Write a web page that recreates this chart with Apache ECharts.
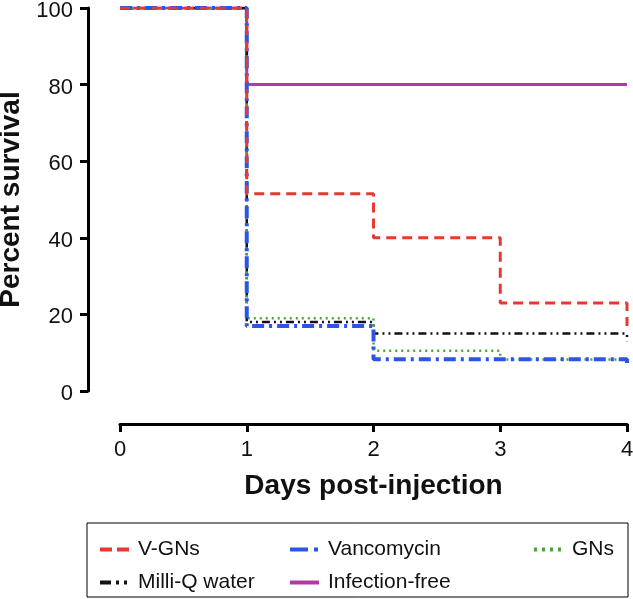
<!DOCTYPE html>
<html><head><meta charset="utf-8">
<script src="https://cdn.jsdelivr.net/npm/echarts@6/dist/echarts.min.js"></script>
<style>html,body{margin:0;padding:0;background:#fff}#c{width:633px;height:599px}</style>
</head><body><div id="c"></div>
<script>
var xTicks = [0, 1, 2, 3, 4];
var yTicks = [0, 20, 40, 60, 80, 100];
var vgnsDays = [0, 1, 2, 3, 4];
var vgnsVals = [100, 51.5, 40, 23, 17];
var vancoDays = [0, 1, 2, 4];
var vancoVals = [100, 17, 8.3, 6];
var gnsDays = [0, 1, 2, 3, 4];
var gnsVals = [100, 19, 10.5, 8.2, 8.2];
var milliDays = [0, 1, 2, 4];
var milliVals = [100, 18, 15, 13];
var freeDays = [0, 1, 4];
var freeVals = [100, 80, 80];
var names = ['V-GNs', 'Vancomycin', 'GNs', 'Milli-Q water', 'Infection-free'];

function pts(d, v) { return d.map(function (x, i) { return [x, v[i]]; }); }

var chart = echarts.init(document.getElementById('c'));
function mk(name, d, v, color, width, dash, z) {
  return {
    name: name, type: 'line', step: 'end', data: pts(d, v), symbol: 'none', showSymbol: false,
    z: z, animation: false,
    lineStyle: { color: color, width: width, type: dash, cap: 'butt' },
    itemStyle: { color: color }
  };
}
function lg(name, left, top, dash) {
  return {
    data: [name], left: left, top: top, padding: 0, itemWidth: 29, itemHeight: 16,
    orient: 'horizontal', selectedMode: false,
    itemStyle: { opacity: 0 },
    lineStyle: { width: 4, type: dash },
    textStyle: { fontFamily: 'Liberation Sans, Arial', fontSize: 21, color: '#111', padding: [0, 0, 0, 4] }
  };
}
var fontTitle = { fontFamily: 'Liberation Sans, Arial', fontWeight: 'bold', fontSize: 28, color: '#111' };
chart.setOption({
  animation: false,
  grid: { left: 120, right: 6, top: 8, bottom: 208, outerBoundsMode: 'none', containLabel: false },
  xAxis: {
    type: 'value', min: 0, max: 4, interval: 1, offset: 33,
    name: 'Days post-injection', nameLocation: 'middle', nameGap: 48,
    nameTextStyle: fontTitle,
    axisLine: { show: true, onZero: false, lineStyle: { color: '#000', width: 3 } },
    axisTick: { show: true, length: 8, lineStyle: { color: '#000', width: 3 } },
    axisLabel: { fontFamily: 'Liberation Sans, Arial', fontSize: 22, color: '#111', margin: 15,
      formatter: function (v) { return xTicks.indexOf(v) >= 0 ? String(v) : ''; } },
    splitLine: { show: false }
  },
  yAxis: {
    type: 'value', min: 0, max: 100, interval: 20, offset: 32,
    name: 'Percent survival', nameLocation: 'middle', nameGap: 62,
    nameTextStyle: fontTitle,
    axisLine: { show: true, onZero: false, lineStyle: { color: '#000', width: 3 } },
    axisTick: { show: true, length: 8, lineStyle: { color: '#000', width: 3 } },
    axisLabel: { margin: 15,
      rich: { v: { fontFamily: 'Liberation Sans, Arial', fontSize: 22, color: '#111', lineHeight: 22, padding: [6, 0, 0, 0] } },
      formatter: function (v) { return yTicks.indexOf(v) >= 0 ? '{v|' + v + '}' : ''; } },
    splitLine: { show: false }
  },
  legend: [
    lg(names[0], 98, 539, [12, 5]),
    lg(names[1], 288, 539, [18, 6, 4, 6]),
    lg(names[2], 532, 539, [3, 5]),
    lg(names[3], 98, 572, [11, 5, 3, 5, 3, 5]),
    lg(names[4], 288, 572, 'solid')
  ],
  graphic: [{ type: 'rect', shape: { x: 87, y: 523, width: 541, height: 74 },
    style: { fill: 'none', stroke: '#000', lineWidth: 1 } }],
  series: [
    mk(names[4], freeDays, freeVals, '#b23aa5', 3, 'solid', 1),
    mk(names[3], milliDays, milliVals, '#111111', 2.5, [8, 4, 2, 4, 2, 4], 2),
    mk(names[2], gnsDays, gnsVals, '#4fa533', 2.5, [2, 4], 3),
    mk(names[1], vancoDays, vancoVals, '#2a55e6', 4, [12, 5, 3, 5], 4),
    mk(names[0], vgnsDays, vgnsVals, '#e6392f', 3, [10, 6], 5)
  ]
});
</script></body></html>
